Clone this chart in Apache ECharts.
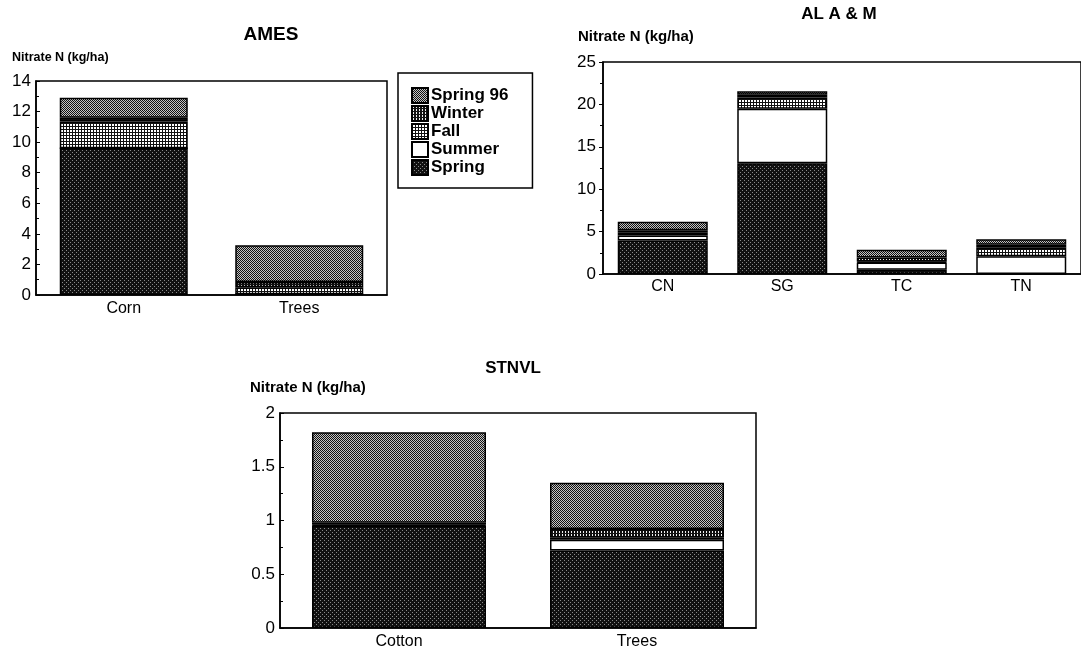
<!DOCTYPE html>
<html>
<head>
<meta charset="utf-8">
<script src="https://cdn.jsdelivr.net/npm/echarts@6/dist/echarts.min.js"></script>
<style>
html, body {margin:0; padding:0; background:#fff;}
#main {width:1081px; height:650px;}
</style>
</head>
<body>
<div id="main"></div>
<script>
// stacking order, bottom to top
var seasons = ['Spring', 'Summer', 'Fall', 'Winter', 'Spring 96'];
var legendOrder = ['Spring 96', 'Winter', 'Fall', 'Summer', 'Spring'];

// AMES
var amesCats = ['Corn', 'Trees'];
var amesSpring = [9.6, 0.05];
var amesSummer = [0, 0];
var amesFall = [1.75, 0.45];
var amesWinter = [0.25, 0.35];
var amesSpring96 = [1.3, 2.4];
var amesTicks = [0, 14, 2];

// AL A & M
var alCats = ['CN', 'SG', 'TC', 'TN'];
var alSpring = [3.95, 13.05, 0.5, 0];
var alSummer = [0.6, 6.45, 0.85, 2.1];
var alFall = [0.3, 1.3, 0.1, 1.0];
var alWinter = [0.3, 0.35, 0.5, 0.35];
var alSpring96 = [1.0, 0.4, 0.9, 0.65];
var alTicks = [0, 25, 5];

// STNVL
var stCats = ['Cotton', 'Trees'];
var stSpring = [0.95, 0.72];
var stSummer = [0, 0.1];
var stFall = [0.01, 0.02];
var stWinter = [0.02, 0.08];
var stSpring96 = [0.84, 0.43];
var stTicks = [0, 2, 0.5];

var FONT = '"Liberation Sans", Arial, sans-serif';

makePattern = function(w, h, bg, fg, dots){
	var c = document.createElement('canvas');
	c.width = w;
	c.height = h;
	var ctx = c.getContext('2d');
	ctx.fillStyle = bg;
	ctx.fillRect(0, 0, w, h);
	ctx.fillStyle = fg;
	for(var i = 0; i < dots.length; i++)
	{
		ctx.fillRect(dots[i][0], dots[i][1], 1, 1);
	}
	return {image: c, repeat: 'repeat'};
}

var fills = {
	'Spring': makePattern(4, 4, '#111', '#8a8a8a', [[0,0],[2,2]]),
	'Summer': '#fff',
	'Fall': makePattern(3, 3, '#fff', '#111', [[0,0],[1,0],[2,0],[0,1],[0,2]]),
	'Winter': makePattern(3, 3, '#111', '#eee', [[1,0],[1,1]]),
	'Spring 96': makePattern(2, 2, '#c4c4c4', '#111', [[0,0],[1,1]])
};

makeSeries = function(name, data, idx, width){
	return {
		name: name,
		type: 'bar',
		stack: 'g' + idx,
		xAxisIndex: idx,
		yAxisIndex: idx,
		barWidth: width,
		data: data,
		itemStyle: {color: fills[name], borderColor: '#000', borderWidth: 1.5},
		emphasis: {disabled: true}
	};
}

makeX = function(idx, cats, size, margin){
	return {
		gridIndex: idx,
		type: 'category',
		data: cats,
		axisLine: {lineStyle: {color: '#000', width: 1.5}},
		axisTick: {show: false},
		axisLabel: {color: '#000', fontSize: size, fontFamily: FONT, margin: margin}
	};
}

makeY = function(idx, t, inside, margin){
	return {
		gridIndex: idx,
		type: 'value',
		min: t[0],
		max: t[1],
		interval: t[2],
		axisLine: {show: true, lineStyle: {color: '#000', width: 1.5}},
		axisTick: {show: true, inside: inside, length: 4, lineStyle: {color: '#000'}},
		minorTick: {show: true, splitNumber: 2, length: 3, lineStyle: {color: '#000'}},
		splitLine: {show: false},
		axisLabel: {color: '#000', fontSize: 17, fontFamily: FONT, margin: margin}
	};
}

makeText = function(x, y, text, size, align){
	return {
		type: 'text',
		x: x,
		y: y,
		style: {
			text: text,
			fill: '#000',
			font: 'bold ' + size + 'px ' + FONT,
			textAlign: align, align: align,
			textVerticalAlign: 'middle', verticalAlign: 'middle'
		}
	};
}

var series = [];
var amesData = [amesSpring, amesSummer, amesFall, amesWinter, amesSpring96];
var alData = [alSpring, alSummer, alFall, alWinter, alSpring96];
var stData = [stSpring, stSummer, stFall, stWinter, stSpring96];
for(i = 0; i < seasons.length; i++)
{
	series.push(makeSeries(seasons[i], amesData[i], 0, 128));
	series.push(makeSeries(seasons[i], alData[i], 1, 90));
	series.push(makeSeries(seasons[i], stData[i], 2, 174));
}

var frame = {show: true, borderColor: '#000', borderWidth: 1.5, backgroundColor: 'transparent'};

var option = {
	animation: false,
	backgroundColor: '#fff',
	textStyle: {fontFamily: FONT},
	grid: [
		Object.assign({left: 36, top: 81, width: 351, height: 214}, frame),
		Object.assign({left: 603, top: 62, width: 481, height: 212}, frame),
		Object.assign({left: 280, top: 413, width: 476, height: 215}, frame)
	],
	xAxis: [
		makeX(0, amesCats, 16, 6),
		makeX(1, alCats, 16, 5),
		makeX(2, stCats, 16, 6)
	],
	yAxis: [
		makeY(0, amesTicks, true, 5),
		makeY(1, alTicks, false, 7),
		makeY(2, stTicks, true, 5)
	],
	legend: {
		data: legendOrder,
		orient: 'vertical',
		left: 398,
		top: 73,
		icon: 'rect',
		itemWidth: 16,
		itemHeight: 15,
		itemGap: 1,
		padding: [14, 24, 12, 13],
		borderColor: '#000',
		borderWidth: 1.5,
		backgroundColor: '#fff',
		selectedMode: false,
		textStyle: {fontSize: 17, fontWeight: 'bold', color: '#000', fontFamily: FONT, padding: [0, 0, 0, -2]}
	},
	graphic: [
		makeText(271, 35, 'AMES', 19, 'center'),
		makeText(12, 58, 'Nitrate N (kg/ha)', 12.5, 'left'),
		makeText(839, 14, 'AL A & M', 17, 'center'),
		makeText(578, 37, 'Nitrate N (kg/ha)', 15, 'left'),
		makeText(513, 368, 'STNVL', 17, 'center'),
		makeText(250, 388, 'Nitrate N (kg/ha)', 15, 'left')
	],
	series: series
};

var myChart = echarts.init(document.getElementById('main'), null, {renderer: 'canvas'});
myChart.setOption(option);
</script>
</body>
</html>
